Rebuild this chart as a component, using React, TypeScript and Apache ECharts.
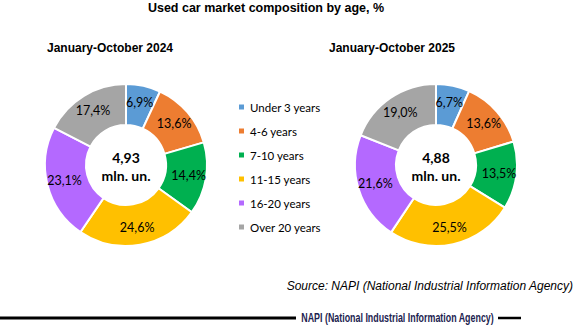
import React, { useEffect, useRef } from "react";
import * as echarts from "echarts";

const categories = ["Under 3 years", "4-6 years", "7-10 years", "11-15 years", "16-20 years", "Over 20 years"];
const values2024 = [6.9, 13.6, 14.4, 24.6, 23.1, 17.4];
const values2025 = [6.7, 13.6, 13.5, 25.5, 21.6, 19.0];
const totals = ["4,93", "4,88"];
const periodTitles = ["January-October 2024", "January-October 2025"];
const colors = ["#5b9bd5", "#ed7d31", "#00b050", "#ffc000", "#b469ff", "#a5a5a5"];

const fmt = (v: number) => v.toFixed(1).replace(".", ",") + "%";

export default function App() {
  const ref = useRef<HTMLDivElement>(null);
  useEffect(() => {
    document.body.style.margin = "0";
    const chart = echarts.init(ref.current!, null, { renderer: "svg" });
    const labelFont = "Lato, 'Noto Sans', sans-serif";
    const makePie = (vals: number[], cx: number) => ({
      type: "pie",
      center: [cx, 165],
      radius: [40, 81],
      startAngle: 90,
      clockwise: true,
      avoidLabelOverlap: false,
      itemStyle: { borderColor: "#fff", borderWidth: 2 },
      label: {
        show: true,
        position: "inside",
        formatter: (p: any) => fmt(p.value),
        color: "#000",
        fontSize: 12.5,
        fontFamily: labelFont,
      },
      labelLine: { show: false },
      emphasis: { disabled: true },
      data: categories.map((c, i) => ({ name: c, value: vals[i], itemStyle: { color: colors[i] } })),
    });
    chart.setOption({
      animation: false,
      legend: {
        orient: "vertical",
        left: 232,
        top: 96,
        itemWidth: 7,
        itemHeight: 7,
        itemGap: 12,
        icon: "rect",
        data: categories,
        textStyle: { fontSize: 11.5, fontFamily: labelFont, color: "#000", lineHeight: 12 },
      },
      series: [makePie(values2024, 126), makePie(values2025, 436)],
      graphic: [
        {
          type: "text",
          x: 266,
          y: 8,
          style: {
            text: "Used car market composition by age, %",
            font: "bold 12.5px 'Liberation Sans', Arial, sans-serif",
            fill: "#000",
            textAlign: "center",
            textVerticalAlign: "middle",
          },
        },
        ...[110, 392].map((x, i) => ({
          type: "text",
          x,
          y: 48,
          style: {
            text: periodTitles[i],
            font: "bold 12px 'Liberation Sans', Arial, sans-serif",
            fill: "#000",
            textAlign: "center",
            textVerticalAlign: "middle",
          },
        })),
        ...[126, 436].map((x, i) => ({
          type: "text",
          x,
          y: 166,
          style: {
            text: totals[i] + "\nmln. un.",
            font: "bold 14px Lato, sans-serif",
            lineHeight: 18,
            fill: "#000",
            textAlign: "center",
            textVerticalAlign: "middle",
          },
        })),
        {
          type: "text",
          x: 573,
          y: 286,
          style: {
            text: "Source: NAPI (National Industrial Information Agency)",
            font: "italic 12px 'Liberation Sans', Arial, sans-serif",
            fill: "#000",
            textAlign: "right",
            textVerticalAlign: "middle",
          },
        },
        {
          type: "line",
          shape: { x1: 0, y1: 318, x2: 296, y2: 318 },
          style: { stroke: "#000", lineWidth: 3 },
        },
        {
          type: "text",
          x: 397.5,
          y: 317,
          scaleX: 0.74,
          style: {
            text: "NAPI (National Industrial Information Agency)",
            font: "bold 12px 'Liberation Sans', Arial, sans-serif",
            fill: "#1c2350",
            textAlign: "center",
            textVerticalAlign: "middle",
          },
        },
        {
          type: "line",
          shape: { x1: 498, y1: 318, x2: 521, y2: 318 },
          style: { stroke: "#000", lineWidth: 2.5 },
        },
      ],
    });
    return () => chart.dispose();
  }, []);
  return <div ref={ref} style={{ width: 580, height: 327 }} />;
}
